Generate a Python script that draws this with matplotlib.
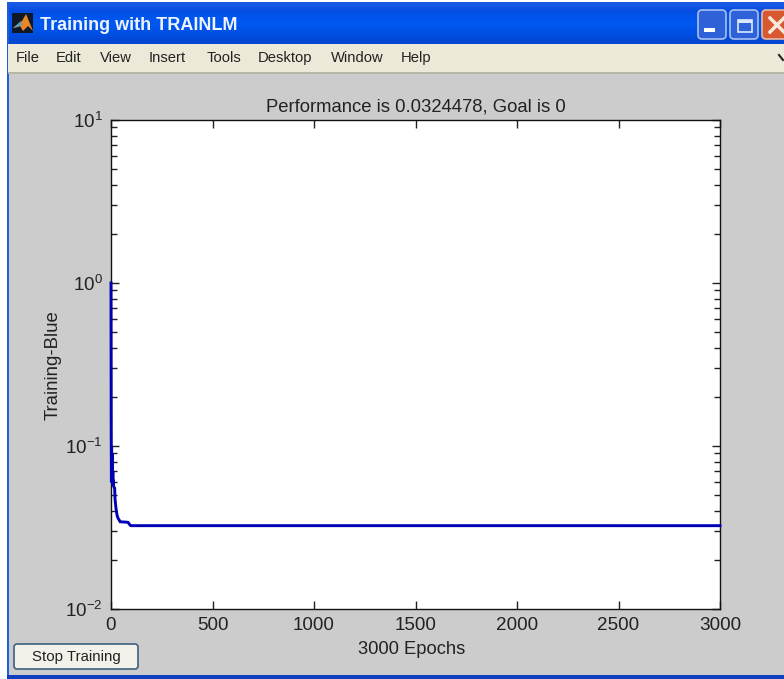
import numpy as np
import matplotlib
matplotlib.use("Agg")
import matplotlib.pyplot as plt
from matplotlib.patches import Rectangle, FancyBboxPatch, Polygon
from matplotlib.ticker import LogLocator, NullFormatter

plt.rcParams['font.family'] = ['Liberation Sans', 'DejaVu Sans']
plt.rcParams['mathtext.default'] = 'regular'

W, H = 784, 679

# values
epochs = [0, 1, 2, 3, 4, 5, 6, 7, 8, 9, 10, 11, 12, 15, 18, 20, 25, 30, 35, 40, 45, 60, 75, 84, 90, 95, 100, 500, 1000, 2000, 3000]
perf = [1.0, 0.125, 0.06, 0.098, 0.06, 0.09, 0.06, 0.085, 0.058, 0.07, 0.058, 0.062, 0.057, 0.056, 0.055, 0.047, 0.041, 0.0375, 0.036, 0.0352, 0.0343, 0.0342, 0.0341, 0.034, 0.0332, 0.0326, 0.03245, 0.03245, 0.03245, 0.03245, 0.0324478]
x_ticks = [0, 500, 1000, 1500, 2000, 2500, 3000]
title = "Performance is 0.0324478, Goal is 0"
x_label = "3000 Epochs"
y_label = "Training-Blue"
window_title = "Training with TRAINLM"
menu_items = ["File", "Edit", "View", "Insert", "Tools", "Desktop", "Window", "Help"]
menu_x = [16, 56, 100, 149, 207, 258, 331, 401]

fig = plt.figure(figsize=(W / 100, H / 100), dpi=100, facecolor='#cccccc')

# window frame, drawn in pixel coordinates
bg = fig.add_axes([0, 0, 1, 1], zorder=0)
bg.axis('off')

grad = np.array([[0.10, 0.35, 0.90], [0.02, 0.30, 0.88], [0.0, 0.33, 0.93], [0.0, 0.35, 0.95],
                 [0.0, 0.33, 0.92], [0.0, 0.30, 0.88], [0.02, 0.28, 0.82]])
bg.imshow(grad[:, None, :], extent=(7, W, 44, 2), aspect='auto', interpolation='bilinear', zorder=1)
bg.set_xlim(0, W)
bg.set_ylim(H, 0)
bg.add_patch(Rectangle((0, 0), 7, H, fc='white', ec='none', zorder=2))
bg.add_patch(Rectangle((0, 0), W, 2, fc='white', ec='none', zorder=2))
bg.add_patch(Rectangle((7, 2), 2, H, fc='#1f5fd8', ec='none', zorder=2))
bg.add_patch(Rectangle((8, 44), W - 8, 29, fc='#ece9d8', ec='none', zorder=2))
bg.add_patch(Rectangle((8, 72), W - 8, 2, fc='#b8b6a8', ec='none', zorder=2))
bg.add_patch(Rectangle((7, 675), W, 4, fc='#0f3fc0', ec='none', zorder=2))

# matlab icon
bg.add_patch(Rectangle((12, 13), 21, 20, fc='#101828', ec='none', zorder=3))
bg.add_patch(Polygon([[13, 28], [22, 21], [26, 14], [33, 31], [28, 26], [23, 31], [20, 26]], fc='#e8862a', ec='none', zorder=4))
bg.add_patch(Polygon([[13, 28], [21, 21], [22, 25], [18, 27]], fc='#5f9fb8', ec='none', zorder=5))
bg.text(40, 26, window_title, color='#eef4ff', fontsize=13, fontweight='bold', va='center', zorder=5)

# window buttons
bg.add_patch(FancyBboxPatch((698, 10), 28, 29, boxstyle='round,pad=0,rounding_size=4', fc='#2f62d8', ec='#a8c0f0', lw=1.2, zorder=3))
bg.add_patch(Rectangle((704, 28), 11, 4, fc='white', ec='none', zorder=4))
bg.add_patch(FancyBboxPatch((730, 10), 28, 29, boxstyle='round,pad=0,rounding_size=4', fc='#2f62d8', ec='#a8c0f0', lw=1.2, zorder=3))
bg.add_patch(Rectangle((738, 20), 14, 12, fc='none', ec='#dde8ff', lw=1.2, zorder=4))
bg.add_patch(Rectangle((738, 20), 14, 3, fc='#dde8ff', ec='none', zorder=4))
bg.add_patch(FancyBboxPatch((762, 10), 32, 29, boxstyle='round,pad=0,rounding_size=4', fc='#d8582f', ec='#e8b8a8', lw=1.2, zorder=3))
bg.plot([770, 784], [18, 32], color='#fbe8dc', lw=2.5, zorder=4)
bg.plot([770, 784], [32, 18], color='#fbe8dc', lw=2.5, zorder=4)
bg.set_xlim(0, W)
bg.set_ylim(H, 0)

for name, mx in zip(menu_items, menu_x):
    bg.text(mx, 58, name, fontsize=10.6, color='#222222', va='center', ha='left', zorder=5)
bg.plot([779, 783], [55, 60], color='#222222', lw=1.5, zorder=5)

# stop button
bg.add_patch(FancyBboxPatch((14, 644), 124, 25, boxstyle='round,pad=0,rounding_size=3', fc='#f2f1ea', ec='#3f5f7f', lw=1.2, zorder=3))
bg.text(76, 657, "Stop Training", fontsize=10.8, color='#222222', ha='center', va='center', zorder=5)

# plot area
ax = fig.add_axes([111 / W, 1 - 609 / H, (720 - 111) / W, (609 - 120) / H], zorder=1, facecolor='white')
ax.semilogy(epochs, perf, color='#0000b4', lw=2.1, solid_joinstyle='miter', clip_on=False, zorder=3)
ax.set_xlim(0, 3000)
ax.set_ylim(0.01, 10)
ax.set_xticks(x_ticks)
ax.yaxis.set_major_locator(LogLocator(base=10, numticks=10))
ax.yaxis.set_minor_locator(LogLocator(base=10, subs=np.arange(2, 10), numticks=10))
ax.yaxis.set_minor_formatter(NullFormatter())
ax.tick_params(which='major', direction='in', top=True, right=True, length=6, width=1, labelsize=13.6, pad=6, colors='#222222')
ax.tick_params(which='minor', direction='in', left=True, right=True, length=4, width=1, colors='#222222')
for s in ax.spines.values():
    s.set_linewidth(1)
    s.set_color('#111111')

fig.text(416 / W, 1 - 107 / H, title, fontsize=13.3, color='#222222', ha='center', va='center')
fig.text(412 / W, 1 - 649 / H, x_label, fontsize=13.2, color='#222222', ha='center', va='center')
fig.text(53 / W, 1 - 365 / H, y_label, fontsize=13.4, color='#222222', ha='center', va='center', rotation=90)

fig.savefig("out.png", dpi=100, facecolor=fig.get_facecolor())
